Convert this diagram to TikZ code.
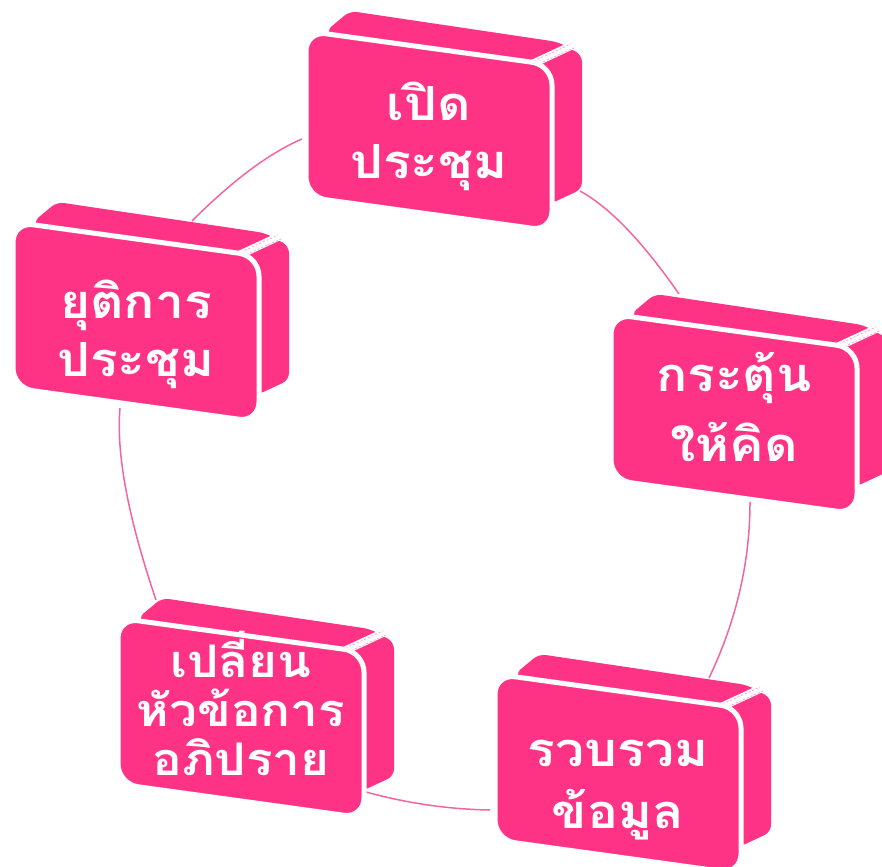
\documentclass[tikz,border=0pt]{standalone}
\usepackage{fontspec}
\newfontfamily\thaifont[Script=Thai,FakeStretch=1.1]{Loma}
\definecolor{pinkc}{HTML}{FF3385}
\definecolor{arcc}{HTML}{F4649E}
\tikzset{
  boxtext/.style={text=white, font=\thaifont\bfseries\fontsize{47}{58}\selectfont, align=center, inner sep=0pt},
  boxtextthree/.style={boxtext, font=\thaifont\bfseries\fontsize{45}{49}\selectfont},
  arcline/.style={draw=arcc, line width=1.5pt},
  backface/.style={fill=pinkc, rounded corners=7pt},
  frontface/.style={draw=white, line width=5pt, fill=pinkc, rounded corners=20pt},
  bevel/.style={draw=white, line width=8pt},
  beveldash/.style={draw=pinkc!45, line width=0.8pt, dash pattern=on 2pt off 2pt}
}
% #1 name, #2 x, #3 y, #4 text, #5 text style, #6 text y in box
\newcommand\pinkbox[6]{%
  \begin{scope}[shift={(#2,#3)}]
    \fill[backface] (18,-2) -- (42,-22) -- (250,9) -- (274,22) -- (274,156) -- (242,171) -- (150,120) -- cycle;
    \draw[bevel] (224,31) -- (265,12);
    \draw[beveldash] (226,28) -- (263,11);
    \draw[beveldash] (228,32) -- (266,15);
    \path[frontface] (-2,-2) -- (244,32) -- (244,198) -- (-2,164) -- cycle;
    \node[#5] (#1) at (121,#6) {#4};
  \end{scope}}
\begin{document}
\begin{tikzpicture}[x=1pt,y=-1pt]
\useasboundingbox (0,0) rectangle (882,866);
% arc end points
\coordinate (a1s) at (302,139);
\coordinate (a1e) at (192,221);
\coordinate (a2s) at (580,191);
\coordinate (a2e) at (679,294);
\coordinate (a3s) at (750,500);
\coordinate (a3e) at (709,678);
\coordinate (a4s) at (366,792);
\coordinate (a4e) at (490,810);
\coordinate (a5s) at (120,408);
\coordinate (a5e) at (156,600);
\draw[arcline] (a1s) .. controls (269.3,153) and (232.7,180.3) .. (a1e);
\draw[arcline] (a2s) .. controls (609.7,207.3) and (642.7,241.7) .. (a2e);
\draw[arcline] (a3s) .. controls (750.3,560.7) and (736.7,620) .. (a3e);
\draw[arcline] (a4s) .. controls (407.3,803.3) and (448.7,809.3) .. (a4e);
\draw[arcline] (a5s) .. controls (116,453.3) and (128,517.3) .. (a5e);
\pinkbox{b1}{308}{33}{เปิด\\ประชุม}{boxtext}{103}
\pinkbox{b2}{613}{316}{กระตุ้น\\[12pt]ให้คิด}{boxtext}{91}
\pinkbox{b3}{497}{676}{รวบรวม\\[4pt]ข้อมูล}{boxtext}{114}
\pinkbox{b4}{120}{620}{เปลี่ยน\\หัวข้อการ\\อภิปราย}{boxtextthree}{83}
\pinkbox{b5}{15}{224}{ยุติการ\\ประชุม}{boxtext}{110}
\end{tikzpicture}
\end{document}
